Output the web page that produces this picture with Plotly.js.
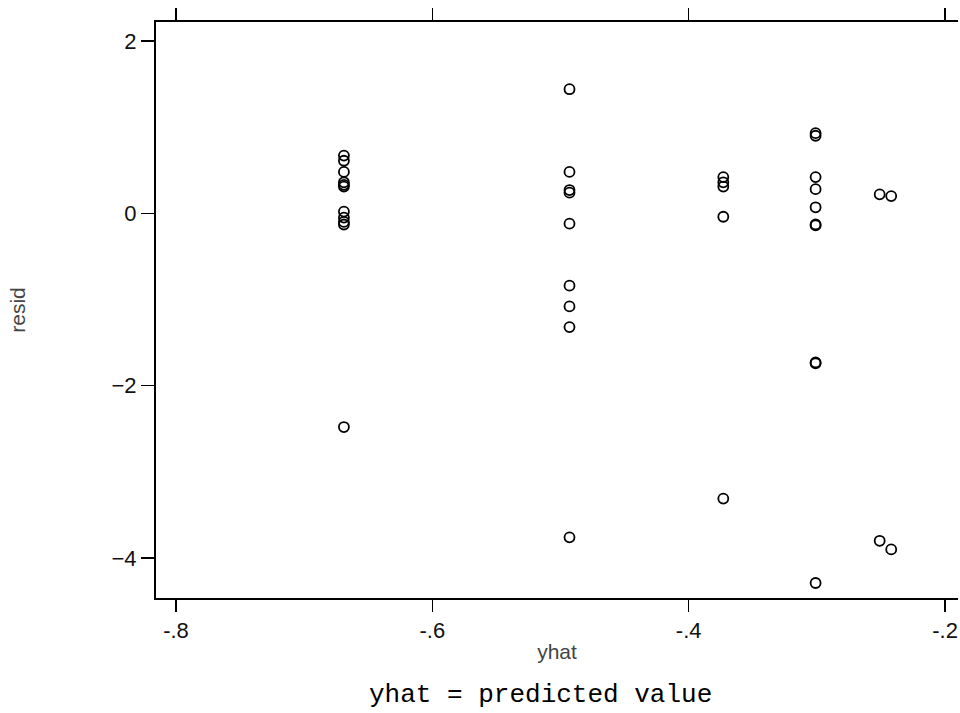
<!DOCTYPE html>
<html>
<head>
<meta charset="utf-8">
<script src="https://cdn.plot.ly/plotly-3.0.1.min.js"></script>
<style>html,body{margin:0;padding:0;background:#fff;}#chart{width:960px;height:713px;}</style>
</head>
<body>
<div id="chart"></div>
<script>
// fitted values (yhat) and residuals
const yhat = [
  -0.669,-0.669,-0.669,-0.669,-0.669,-0.669,-0.669,-0.669,-0.669,-0.669,-0.669,
  -0.493,-0.493,-0.493,-0.493,-0.493,-0.493,-0.493,-0.493,-0.493,
  -0.373,-0.373,-0.373,-0.373,-0.373,
  -0.301,-0.301,-0.301,-0.301,-0.301,-0.301,-0.301,-0.301,-0.301,-0.301,
  -0.251,-0.242,-0.251,-0.242
];
const resid = [
  0.67,0.61,0.48,0.36,0.33,0.31,0.02,-0.05,-0.10,-0.13,-2.48,
  1.44,0.48,0.27,0.24,-0.12,-0.84,-1.08,-1.32,-3.76,
  0.42,0.36,0.31,-0.04,-3.31,
  0.93,0.90,0.42,0.28,0.07,-0.13,-0.14,-1.73,-1.74,-4.29,
  0.22,0.20,-3.80,-3.90
];
const xTickVals = [-0.8,-0.6,-0.4,-0.2];
const xTickText = ['-.8','-.6','-.4','-.2'];
const yTickVals = [2,0,-2,-4];
const yTickText = ['2','0','−2','−4'];

const trace = {
  x: yhat, y: resid, type: 'scatter', mode: 'markers',
  marker: {symbol: 'circle-open', size: 10, color: '#000', line: {width: 1.8, color: '#000'}},
  hoverinfo: 'none', showlegend: false
};

const layout = {
  width: 960, height: 713,
  margin: {l: 156, r: 2, t: 22, b: 115},
  paper_bgcolor: '#fff', plot_bgcolor: '#fff',
  font: {family: 'Liberation Sans, Arial, sans-serif', color: '#111'},
  xaxis: {
    range: [-0.8156, -0.1899], tickvals: xTickVals, ticktext: xTickText,
    showgrid: false, zeroline: false, showline: true, linecolor: '#000', linewidth: 2,
    ticks: 'outside', ticklen: 12, tickwidth: 1.5, tickcolor: '#000', mirror: 'ticks',
    tickfont: {size: 22, color: '#111'},
    title: {text: 'yhat', font: {size: 21, color: '#444'}, standoff: 2}
  },
  yaxis: {
    range: [-4.464, 2.22], tickvals: yTickVals, ticktext: yTickText,
    showgrid: false, zeroline: false, showline: true, linecolor: '#000', linewidth: 2,
    ticks: 'outside', ticklen: 13, tickwidth: 1.5, tickcolor: '#000', mirror: false,
    tickfont: {size: 22, color: '#111'},
    title: {text: 'resid', font: {size: 21, color: '#444'}, standoff: 80}
  },
  annotations: [{
    text: 'yhat = predicted value', xref: 'paper', yref: 'paper',
    x: (540-156)/802, y: -(695-598)/576, xanchor: 'center', yanchor: 'middle',
    showarrow: false, font: {family: 'Liberation Mono, Courier New, monospace', size: 26, color: '#000'}
  }]
};

Plotly.newPlot('chart', [trace], layout, {staticPlot: true, displayModeBar: false});
</script>
</body>
</html>
